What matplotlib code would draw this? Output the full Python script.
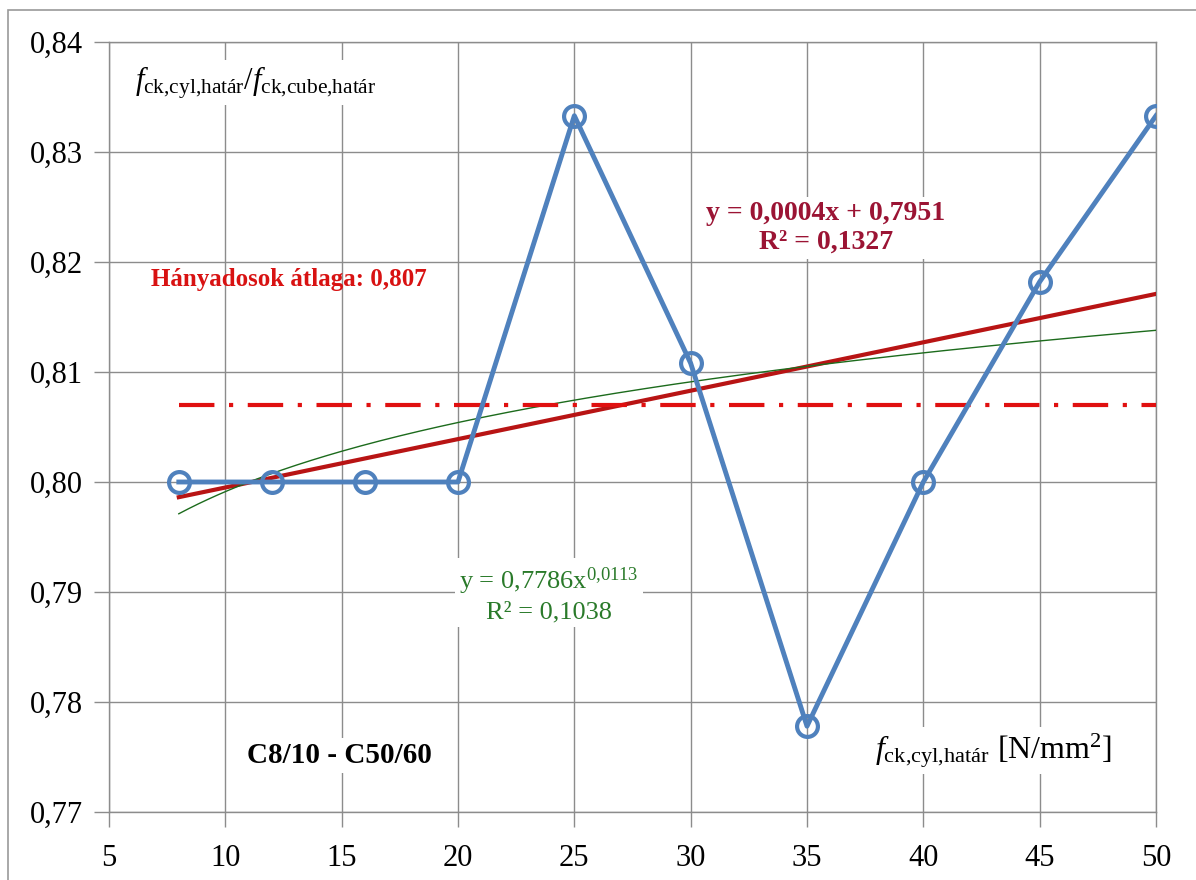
import matplotlib.pyplot as plt
import numpy as np

# data: f_ck,cyl and f_ck,cyl / f_ck,cube ratios
fck_cyl = [8, 12, 16, 20, 25, 30, 35, 40, 45, 50]
ratio = [0.8000, 0.8000, 0.8000, 0.8000, 0.8333, 0.8108, 0.7778, 0.8000, 0.8182, 0.8333]
mean_ratio = 0.807
lin_a, lin_b = 0.00044, 0.7951
pow_a, pow_b = 0.7786, 0.0113
x_ticks = [5, 10, 15, 20, 25, 30, 35, 40, 45, 50]
y_ticks = [0.77, 0.78, 0.79, 0.80, 0.81, 0.82, 0.83, 0.84]
y_labels = ['0,77', '0,78', '0,79', '0,80', '0,81', '0,82', '0,83', '0,84']

plt.rcParams['font.family'] = ['Liberation Serif', 'DejaVu Serif']
plt.rcParams['mathtext.fontset'] = 'custom'
plt.rcParams['mathtext.rm'] = 'Liberation Serif'
plt.rcParams['mathtext.it'] = 'Liberation Serif:italic'

fig = plt.figure(figsize=(11.96, 8.8), dpi=100)
ax = fig.add_axes([109/1196, 1 - 812/880, (1156-109)/1196, (812-42)/880])

# frame around the whole chart
fig.patches.append(plt.Rectangle((8/1196, -0.01), 1.2, 1 - 10/880 + 0.01,
                                 transform=fig.transFigure, fill=False,
                                 edgecolor='#9a9a9a', linewidth=1.2))

xs = np.linspace(8, 50, 200)
ax.plot(xs, lin_a * xs + lin_b, color='#B81414', linewidth=3, zorder=3)
ax.plot(xs, pow_a * xs ** pow_b, color='#1C6B1C', linewidth=1, zorder=3)
ax.plot([8, 50], [mean_ratio, mean_ratio], color='#E01010', linewidth=3,
        dashes=(8.5, 3.5, 1, 3.5), zorder=3)
ax.plot(fck_cyl, ratio, color='#4F81BD', linewidth=3.5, marker='o',
        markersize=15, markerfacecolor='none', markeredgecolor='#4F81BD',
        markeredgewidth=3, zorder=4)

ax.set_xlim(5, 50)
ax.set_ylim(0.77, 0.84)
ax.set_xticks(x_ticks)
ax.set_yticks(y_ticks)
ax.set_yticklabels(y_labels)
ax.grid(True, color='#8c8c8c', linewidth=1)
ax.set_axisbelow(True)
for s in ax.spines.values():
    s.set_color('#8c8c8c')
    s.set_linewidth(1)
ax.tick_params(direction='out', length=11, width=1, color='#8c8c8c',
               labelsize=22, pad=8)
ax.tick_params(axis='x', pad=12)

white = dict(facecolor='white', edgecolor='none', pad=3)
ax.text(6.1, 0.8363, r'$\mathit{f}_{\mathrm{ck{,}cyl{,}határ}}/\mathit{f}_{\mathrm{ck{,}cube{,}határ}}$',
        fontsize=22, ha='left', va='center', bbox=white, zorder=5)
ax.text(6.8, 0.8184, 'Hányadosok átlaga: 0,807', fontsize=18, fontweight='bold',
        color='#D81212', ha='left', va='center', zorder=5)
ax.text(35.8, 0.8231, 'y = 0,0004x + 0,7951\nR² = 0,1327', fontsize=20,
        fontweight='bold', color='#9B1434', ha='center', va='center',
        linespacing=1.2, bbox=white, zorder=5)
ax.text(23.9, 0.7898, 'y = 0,7786x$^{0{,}0113}$\nR² = 0,1038', fontsize=19,
        color='#2A7A2A', ha='center', va='center', linespacing=1.25,
        bbox=white, zorder=5)
ax.text(14.9, 0.7751, 'C8/10 - C50/60', fontsize=21, fontweight='bold',
        ha='center', va='center', bbox=white, zorder=5)
ax.text(43.0, 0.7756, r'$\mathit{f}_{\mathrm{ck{,}cyl{,}határ}}$ [N/mm$^2$]',
        fontsize=23, ha='center', va='center', bbox=white, zorder=5)

fig.savefig('out.png', dpi=100)
